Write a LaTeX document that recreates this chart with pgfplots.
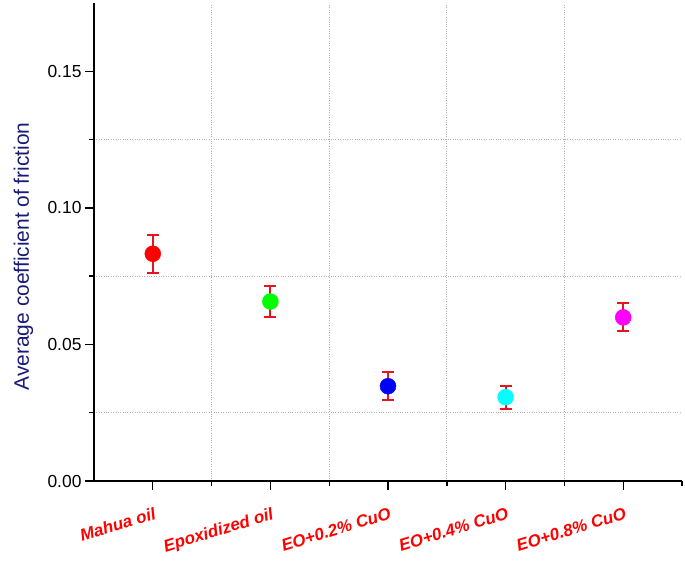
\documentclass[border=0pt]{standalone}
\usepackage{pgfplots}
\pgfplotsset{compat=1.18}
\usepackage{fontspec}
\setmainfont{Liberation Sans}
\definecolor{navylab}{RGB}{25,25,120}
\definecolor{ptred}{RGB}{255,0,0}
\definecolor{ptgreen}{RGB}{0,255,0}
\definecolor{ptblue}{RGB}{0,0,255}
\definecolor{ptcyan}{RGB}{0,255,255}
\definecolor{ptmag}{RGB}{255,0,255}
\definecolor{errred}{RGB}{230,20,30}
\pgfplotsset{
 pt/.style={only marks, mark=*, mark size=8bp, draw=#1, fill=#1,
   error bars/.cd, y dir=both, y explicit,
   error bar style={draw=errred, line width=2bp},
   error mark options={rotate=90, draw=errred, mark size=6bp, line width=2bp}},
}
\begin{document}
\begin{tikzpicture}
\useasboundingbox (-94bp,-84bp) rectangle (591bp,481bp);
\begin{axis}[
 at={(0,0)}, anchor=south west,
 scale only axis, width=588bp, height=478bp,
 xmin=0.5, xmax=5.5, ymin=0, ymax=0.175,
 axis x line=bottom, axis y line=left,
 axis line style={-, line width=1.4bp, black},
 xtick={1,2,3,4,5},
 xticklabels={Mahua oil, Epoxidized oil, EO+0.2\% CuO, EO+0.4\% CuO, EO+0.8\% CuO},
 minor xtick={1.5,2.5,3.5,4.5},
 extra x ticks={5.5},
 extra x tick labels={},
 extra x tick style={grid=none, major tick length=5bp},
 ytick={0,0.05,0.10,0.15},
 minor ytick={0.025,0.075,0.125},
 tick align=outside,
 major tick length=9bp, minor tick length=5bp,
 tick style={line width=1.4bp, black},
 minor grid style={dotted, black!30, line width=0.7bp},
 xminorgrids=true, yminorgrids=true,
 /pgf/number format/assume math mode=true,
 yticklabel style={/pgf/number format/.cd, fixed, fixed zerofill, precision=2, /tikz/.cd, font=\fontsize{17.5}{20}\selectfont},
 xticklabel style={rotate=17, anchor=north east, yshift=-13bp, xshift=-1bp, font=\fontsize{17}{19}\selectfont\bfseries\itshape, text=red},
 ylabel={Average coefficient of friction},
 ylabel style={font=\fontsize{21}{24}\selectfont, text=navylab, at={(axis description cs:-0.12,0.47)}, anchor=center},
 clip=false,
]
\addplot[pt=ptred] coordinates {(1,0.0832) +- (0,0.0069)};
\addplot[pt=ptgreen] coordinates {(2,0.0657) +- (0,0.0058)};
\addplot[pt=ptblue] coordinates {(3,0.0347) +- (0,0.0051)};
\addplot[pt=ptcyan] coordinates {(4,0.0307) +- (0,0.0042)};
\addplot[pt=ptmag] coordinates {(5,0.0599) +- (0,0.0051)};
\end{axis}
\end{tikzpicture}
\end{document}
